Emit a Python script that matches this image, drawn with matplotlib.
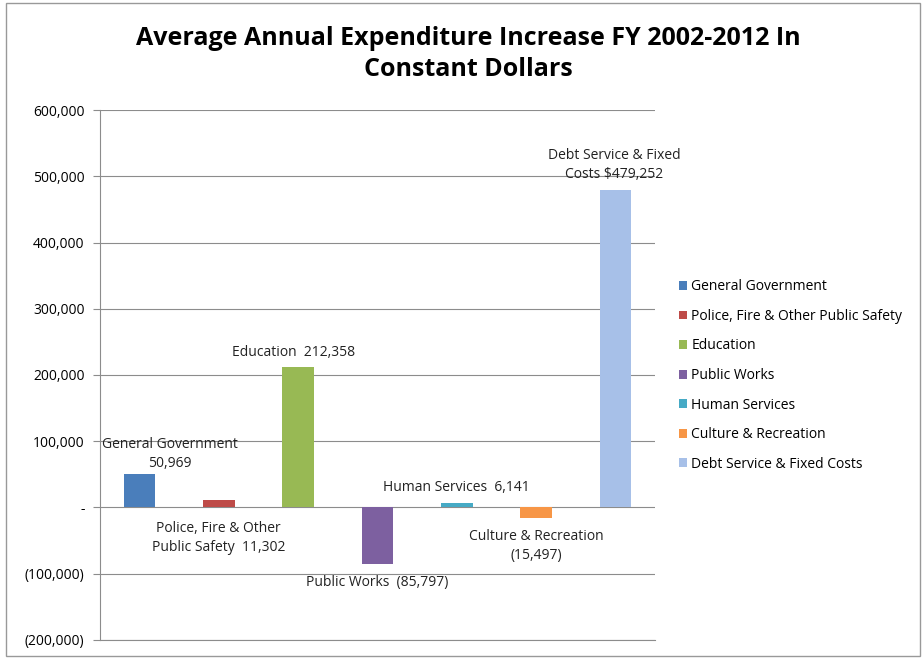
import numpy as np
import matplotlib.pyplot as plt
from matplotlib.patches import Rectangle

plt.rcParams['font.family'] = ['Open Sans', 'DejaVu Sans']

categories = ['General Government', 'Police, Fire & Other Public Safety', 'Education',
              'Public Works', 'Human Services', 'Culture & Recreation',
              'Debt Service & Fixed Costs']
values = [50969, 11302, 212358, -85797, 6141, -15497, 479252]
bar_labels = ['General Government\n50,969', 'Police, Fire & Other\nPublic Safety  11,302',
              'Education  212,358', 'Public Works  (85,797)', 'Human Services  6,141',
              'Culture & Recreation\n(15,497)', 'Debt Service & Fixed\nCosts $479,252']
colors = ['#4a7ebb', '#be4b48', '#98b954', '#7d60a0', '#46aac5', '#f79646', '#a7c0e8']
yticks = [-200000, -100000, 0, 100000, 200000, 300000, 400000, 500000, 600000]
ytick_labels = ['(200,000)', '(100,000)', '-', '100,000', '200,000', '300,000',
                '400,000', '500,000', '600,000']

fig = plt.figure(figsize=(9.24, 6.59), dpi=100)
ax = fig.add_axes([0.108, 0.029, 0.601, 0.804])

x = np.arange(len(categories))
for i in range(len(categories)):
    ax.bar(x[i], values[i], width=0.4, color=colors[i], label=categories[i], zorder=3)

# label offsets (points) relative to bar end (police label hangs under the zero line)
offsets = [(22, 2), (0, -10), (-3, 5), (0, -8), (0, 6), (0, -8), (-1, 6)]
for i in range(len(categories)):
    va = 'bottom' if offsets[i][1] > 0 else 'top'
    ax.annotate(bar_labels[i], (x[i], values[i] if i != 1 else 0),
                xytext=offsets[i], textcoords='offset points',
                ha='center', va=va, fontsize=10, color='#222222',
                linespacing=1.35, zorder=4)

ax.set_xlim(-0.5, 6.5)
ax.set_ylim(-200000, 600000)
ax.set_yticks(yticks)
ax.set_yticklabels(ytick_labels, fontsize=10)
ax.set_xticks([])
ax.grid(axis='y', color='#8c8c8c', linewidth=0.8, zorder=0)
ax.axhline(yticks[0], color='#8c8c8c', linewidth=0.8, clip_on=False, zorder=0)
ax.tick_params(axis='y', length=5, color='#8c8c8c', pad=6)
for s in ['top', 'right', 'bottom']:
    ax.spines[s].set_visible(False)
ax.spines['left'].set_color('#8c8c8c')

fig.text(0.507, 0.918, 'Average Annual Expenditure Increase FY 2002-2012 In\nConstant Dollars',
         ha='center', va='center', fontsize=18, fontweight='bold', linespacing=1.35)

ax.legend(loc='center left', bbox_to_anchor=(1.02, 0.499), frameon=False, fontsize=10,
          handlelength=0.6, handleheight=0.6, handletextpad=0.3, labelspacing=1.05)

fig.patches.append(Rectangle((0.006, 0.005), 0.99, 0.99, transform=fig.transFigure,
                             fill=False, edgecolor='#999999', linewidth=1))

fig.savefig('out.png', dpi=100)
